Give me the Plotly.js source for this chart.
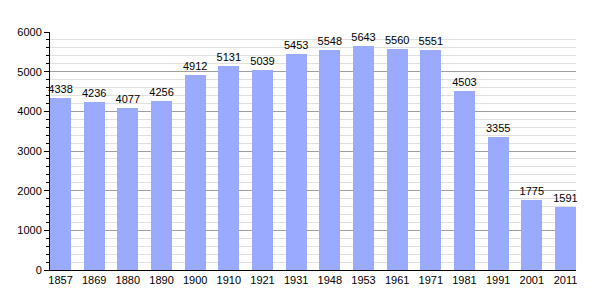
<!DOCTYPE html>
<html><head><meta charset="utf-8">
<script src="https://cdn.plot.ly/plotly-3.0.1.min.js"></script>
<style>html,body{margin:0;padding:0;background:#fff;}</style>
</head><body>
<div id="chart" style="width:605px;height:300px;"></div>
<script>
const years = ["1857","1869","1880","1890","1900","1910","1921","1931","1948","1953","1961","1971","1981","1991","2001","2011"];
const population = [4338,4236,4077,4256,4912,5131,5039,5453,5548,5643,5560,5551,4503,3355,1775,1591];
const idx = years.map((_, i) => i);

Plotly.newPlot('chart', [{
  type: 'bar',
  x: idx,
  y: population,
  width: 0.625,
  marker: {color: '#99aaff', line: {width: 0}},
  text: population.map(String),
  textposition: 'outside',
  constraintext: 'none',
  cliponaxis: false,
  textfont: {family: 'Liberation Sans, Arial, sans-serif', size: 11, color: '#000'},
  hoverinfo: 'skip'
}], {
  width: 605, height: 300,
  margin: {l: 50, r: 29, t: 32, b: 30, pad: 0},
  paper_bgcolor: '#fff', plot_bgcolor: '#fff',
  showlegend: false,
  font: {family: 'Liberation Sans, Arial, sans-serif', size: 11, color: '#000'},
  xaxis: {
    range: [-0.3125, 15.3125],
    tickmode: 'array', tickvals: idx, ticktext: years,
    showgrid: false, zeroline: false,
    showline: true, linecolor: '#000', linewidth: 1,
    ticks: '', ticklen: 0,
    tickfont: {size: 11, color: '#000'}
  },
  yaxis: {
    range: [0, 6000],
    tickmode: 'array', tickvals: [0,1000,2000,3000,4000,5000,6000],
    ticktext: ['0','1000','2000','3000','4000','5000','6000'],
    showgrid: true, gridcolor: '#a0a0a0', gridwidth: 1,
    zeroline: false,
    showline: true, linecolor: '#000', linewidth: 1,
    ticks: 'outside', ticklen: 5, tickcolor: '#000',
    tickfont: {size: 11, color: '#000'},
    minor: {dtick: 200, showgrid: true, gridcolor: '#e0e0e0', gridwidth: 1, ticks: 'outside', ticklen: 3, tickcolor: '#000'}
  },
  bargap: 0
}, {staticPlot: true, displayModeBar: false});
</script>
</body></html>
